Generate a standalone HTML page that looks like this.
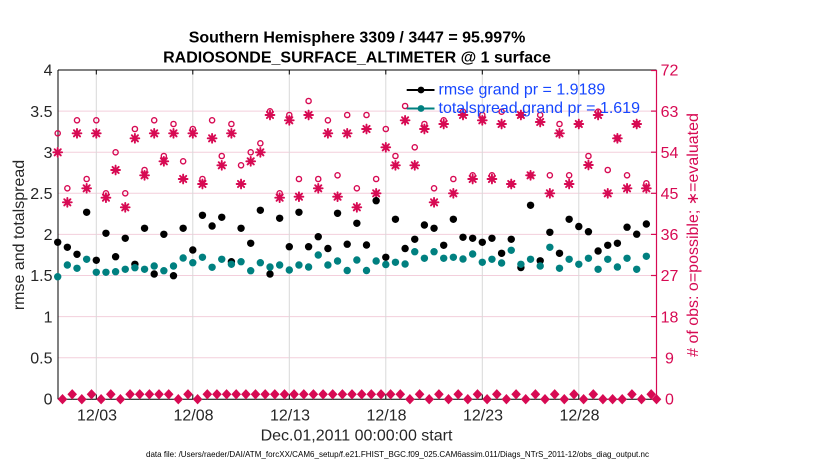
<!DOCTYPE html>
<html>
<head>
<meta charset="utf-8">
<style>
html,body{margin:0;padding:0;background:#fff;}
svg{display:block;}
text{font-family:"Liberation Sans",Arial,sans-serif;}
</style>
</head>
<body>
<svg width="830" height="470" viewBox="0 0 830 470" xmlns="http://www.w3.org/2000/svg">
<defs>
<circle id="k" r="3.7" fill="#000"/>
<circle id="t" r="3.7" fill="#008080"/>
<circle id="o" r="2.6" fill="none" stroke="#D70A53" stroke-width="1.4"/>
<g id="s"><path d="M-4.4,0H4.4M0,-4.4V4.4M-3.1,-3.1L3.1,3.1M-3.1,3.1L3.1,-3.1" stroke="#D70A53" stroke-width="1.9" stroke-linecap="round"/><circle r="2.5" fill="#D70A53"/></g>
<g id="d"><path d="M0,-5.2L4.8,0L0,5.2L-4.8,0Z" fill="#D70A53"/></g>
</defs>

<!-- title -->
<text x="357" y="42.5" font-size="16" font-weight="bold" text-anchor="middle" fill="#000">Southern Hemisphere 3309 / 3447 = 95.997%</text>
<text x="357" y="62.5" font-size="16" font-weight="bold" text-anchor="middle" fill="#000">RADIOSONDE_SURFACE_ALTIMETER @ 1 surface</text>

<!-- grid horizontal (pink) -->
<g stroke="#f3cfdc" stroke-width="1">
<line x1="58" y1="357.7" x2="656" y2="357.7"/>
<line x1="58" y1="316.6" x2="656" y2="316.6"/>
<line x1="58" y1="275.5" x2="656" y2="275.5"/>
<line x1="58" y1="234.4" x2="656" y2="234.4"/>
<line x1="58" y1="193.3" x2="656" y2="193.3"/>
<line x1="58" y1="152.2" x2="656" y2="152.2"/>
<line x1="58" y1="111.1" x2="656" y2="111.1"/>
</g>
<!-- grid vertical (gray) -->
<g stroke="#d8d8d8" stroke-width="1">
<line x1="96.3" y1="70" x2="96.3" y2="399"/>
<line x1="192.8" y1="70" x2="192.8" y2="399"/>
<line x1="289.3" y1="70" x2="289.3" y2="399"/>
<line x1="385.8" y1="70" x2="385.8" y2="399"/>
<line x1="482.3" y1="70" x2="482.3" y2="399"/>
<line x1="578.8" y1="70" x2="578.8" y2="399"/>
</g>

<!-- axes -->
<g stroke="#000" stroke-width="1">
<line x1="58" y1="70" x2="58" y2="399.3"/>
<line x1="58" y1="70" x2="656.5" y2="70"/>
<line x1="58" y1="399.3" x2="656.5" y2="399.3"/>
<line x1="96.3" y1="70" x2="96.3" y2="74.5"/>
<line x1="192.8" y1="70" x2="192.8" y2="74.5"/>
<line x1="289.3" y1="70" x2="289.3" y2="74.5"/>
<line x1="385.8" y1="70" x2="385.8" y2="74.5"/>
<line x1="482.3" y1="70" x2="482.3" y2="74.5"/>
<line x1="578.8" y1="70" x2="578.8" y2="74.5"/>
<line x1="96.3" y1="399" x2="96.3" y2="394.5"/>
<line x1="192.8" y1="399" x2="192.8" y2="394.5"/>
<line x1="289.3" y1="399" x2="289.3" y2="394.5"/>
<line x1="385.8" y1="399" x2="385.8" y2="394.5"/>
<line x1="482.3" y1="399" x2="482.3" y2="394.5"/>
<line x1="578.8" y1="399" x2="578.8" y2="394.5"/>
</g>
<g stroke="#D70A53" stroke-width="1.2">
<line x1="656.5" y1="70" x2="656.5" y2="399.3"/>
<line x1="651" y1="70.5" x2="656.5" y2="70.5"/>
<line x1="651" y1="111.1" x2="656.5" y2="111.1"/>
<line x1="651" y1="152.2" x2="656.5" y2="152.2"/>
<line x1="651" y1="193.3" x2="656.5" y2="193.3"/>
<line x1="651" y1="234.4" x2="656.5" y2="234.4"/>
<line x1="651" y1="275.5" x2="656.5" y2="275.5"/>
<line x1="651" y1="316.6" x2="656.5" y2="316.6"/>
<line x1="651" y1="357.7" x2="656.5" y2="357.7"/>
</g>

<!-- left tick labels -->
<g font-size="16" fill="#262626" text-anchor="end">
<text x="52.5" y="404.5">0</text>
<text x="52.5" y="363.4">0.5</text>
<text x="52.5" y="322.3">1</text>
<text x="52.5" y="281.2">1.5</text>
<text x="52.5" y="240.1">2</text>
<text x="52.5" y="199">2.5</text>
<text x="52.5" y="157.9">3</text>
<text x="52.5" y="116.8">3.5</text>
<text x="52.5" y="75.7">4</text>
</g>
<!-- right tick labels -->
<g font-size="16" fill="#D70A53" text-anchor="middle">
<text x="669.5" y="404.5">0</text>
<text x="669.5" y="363.4">9</text>
<text x="669.5" y="322.3">18</text>
<text x="669.5" y="281.2">27</text>
<text x="669.5" y="240.1">36</text>
<text x="669.5" y="199">45</text>
<text x="669.5" y="157.9">54</text>
<text x="669.5" y="116.8">63</text>
<text x="669.5" y="75.7">72</text>
</g>
<!-- x tick labels -->
<g font-size="16" fill="#262626" text-anchor="middle">
<text x="97" y="420.5">12/03</text>
<text x="193.5" y="420.5">12/08</text>
<text x="290" y="420.5">12/13</text>
<text x="386.5" y="420.5">12/18</text>
<text x="483" y="420.5">12/23</text>
<text x="579.5" y="420.5">12/28</text>
</g>
<text x="356.5" y="440.5" font-size="16" fill="#262626" text-anchor="middle">Dec.01,2011 00:00:00 start</text>
<text x="146" y="457" font-size="8.5" fill="#000" textLength="503" lengthAdjust="spacingAndGlyphs">data file: /Users/raeder/DAI/ATM_forcXX/CAM6_setup/f.e21.FHIST_BGC.f09_025.CAM6assim.011/Diags_NTrS_2011-12/obs_diag_output.nc</text>

<!-- axis labels -->
<text transform="translate(24,235) rotate(-90)" font-size="16" fill="#262626" text-anchor="middle">rmse and totalspread</text>
<text transform="translate(698,235) rotate(-90)" font-size="16" fill="#D70A53" text-anchor="middle"># of obs: o=possible; ∗=evaluated</text>

<!-- bottom diamonds -->
<g>
<use href="#d" x="62.5" y="399.2"/><use href="#d" x="72.2" y="394.3"/><use href="#d" x="81.8" y="399.2"/><use href="#d" x="91.5" y="394.3"/><use href="#d" x="101.1" y="399.2"/><use href="#d" x="110.8" y="394.3"/><use href="#d" x="120.4" y="399.2"/><use href="#d" x="130.1" y="394.3"/><use href="#d" x="139.7" y="394.3"/><use href="#d" x="149.4" y="394.3"/><use href="#d" x="159.0" y="394.3"/><use href="#d" x="168.7" y="394.3"/><use href="#d" x="178.3" y="399.2"/><use href="#d" x="188.0" y="394.3"/><use href="#d" x="197.6" y="399.2"/><use href="#d" x="207.3" y="394.3"/><use href="#d" x="216.9" y="394.3"/><use href="#d" x="226.6" y="394.3"/><use href="#d" x="236.2" y="394.3"/><use href="#d" x="245.9" y="394.3"/><use href="#d" x="255.5" y="394.3"/><use href="#d" x="265.2" y="394.3"/><use href="#d" x="274.8" y="394.3"/><use href="#d" x="284.5" y="394.3"/><use href="#d" x="294.1" y="394.3"/><use href="#d" x="303.8" y="394.3"/><use href="#d" x="313.4" y="394.3"/><use href="#d" x="323.1" y="394.3"/><use href="#d" x="332.7" y="394.3"/><use href="#d" x="342.4" y="394.3"/><use href="#d" x="352.0" y="394.3"/><use href="#d" x="361.7" y="394.3"/><use href="#d" x="371.3" y="394.3"/><use href="#d" x="381.0" y="394.3"/><use href="#d" x="390.6" y="394.3"/><use href="#d" x="400.3" y="394.3"/><use href="#d" x="409.9" y="399.2"/><use href="#d" x="419.6" y="394.3"/><use href="#d" x="429.2" y="399.2"/><use href="#d" x="438.9" y="394.3"/><use href="#d" x="448.5" y="399.2"/><use href="#d" x="458.2" y="394.3"/><use href="#d" x="467.8" y="399.2"/><use href="#d" x="477.5" y="394.3"/><use href="#d" x="487.1" y="399.2"/><use href="#d" x="496.8" y="394.3"/><use href="#d" x="506.4" y="399.2"/><use href="#d" x="516.1" y="394.3"/><use href="#d" x="525.7" y="399.2"/><use href="#d" x="535.4" y="394.3"/><use href="#d" x="545.0" y="399.2"/><use href="#d" x="554.7" y="394.3"/><use href="#d" x="564.3" y="399.2"/><use href="#d" x="574.0" y="394.3"/><use href="#d" x="583.6" y="399.2"/><use href="#d" x="593.3" y="394.3"/><use href="#d" x="602.9" y="399.2"/><use href="#d" x="612.6" y="399.2"/><use href="#d" x="622.2" y="399.2"/><use href="#d" x="631.9" y="394.3"/><use href="#d" x="641.5" y="399.2"/><use href="#d" x="651.2" y="394.3"/><use href="#d" x="656.5" y="399.2"/>
</g>

<!-- possible (open circles) -->
<g>
<use href="#o" x="57.7" y="133.3"/><use href="#o" x="67.35" y="188.3"/><use href="#o" x="77.0" y="120.3"/><use href="#o" x="86.65" y="179"/><use href="#o" x="96.3" y="120.3"/><use href="#o" x="105.95" y="193.3"/><use href="#o" x="115.6" y="152.3"/><use href="#o" x="125.25" y="193.3"/><use href="#o" x="134.9" y="129"/><use href="#o" x="144.55" y="170"/><use href="#o" x="154.2" y="120.3"/><use href="#o" x="163.85" y="156"/><use href="#o" x="173.5" y="124"/><use href="#o" x="183.15" y="161.3"/><use href="#o" x="192.8" y="129"/><use href="#o" x="202.45" y="179"/><use href="#o" x="212.1" y="120.3"/><use href="#o" x="221.75" y="156"/><use href="#o" x="231.4" y="124"/><use href="#o" x="241.05" y="165.3"/><use href="#o" x="250.7" y="152.3"/><use href="#o" x="260.35" y="143.3"/><use href="#o" x="270.0" y="111.3"/><use href="#o" x="279.65" y="193.3"/><use href="#o" x="289.3" y="115"/><use href="#o" x="298.95" y="179"/><use href="#o" x="308.6" y="101"/><use href="#o" x="318.25" y="179"/><use href="#o" x="327.9" y="120.3"/><use href="#o" x="337.55" y="175.3"/><use href="#o" x="347.2" y="115"/><use href="#o" x="356.85" y="188.3"/><use href="#o" x="366.5" y="115"/><use href="#o" x="376.15" y="179"/><use href="#o" x="385.8" y="129"/><use href="#o" x="395.45" y="156"/><use href="#o" x="405.1" y="106"/><use href="#o" x="414.75" y="147.3"/><use href="#o" x="424.4" y="124"/><use href="#o" x="434.05" y="188.3"/><use href="#o" x="443.7" y="120.3"/><use href="#o" x="453.35" y="179"/><use href="#o" x="463.0" y="111.7"/><use href="#o" x="472.65" y="175.3"/><use href="#o" x="482.3" y="115"/><use href="#o" x="491.95" y="175.3"/><use href="#o" x="501.6" y="111.7"/><use href="#o" x="511.25" y="184"/><use href="#o" x="520.9" y="115"/><use href="#o" x="530.55" y="175.3"/><use href="#o" x="540.2" y="115"/><use href="#o" x="549.85" y="175.3"/><use href="#o" x="559.5" y="124"/><use href="#o" x="569.15" y="175.3"/><use href="#o" x="578.8" y="124"/><use href="#o" x="588.45" y="156"/><use href="#o" x="598.1" y="111.7"/><use href="#o" x="607.75" y="170"/><use href="#o" x="617.4" y="138.3"/><use href="#o" x="627.05" y="175.3"/><use href="#o" x="636.7" y="124"/><use href="#o" x="646.35" y="183.3"/>
</g>

<!-- evaluated (asterisks) -->
<g>
<use href="#s" x="57.7" y="152.3"/><use href="#s" x="67.35" y="202.3"/><use href="#s" x="77.0" y="133.3"/><use href="#s" x="86.65" y="188.3"/><use href="#s" x="96.3" y="133.3"/><use href="#s" x="105.95" y="197.7"/><use href="#s" x="115.6" y="170"/><use href="#s" x="125.25" y="207.3"/><use href="#s" x="134.9" y="138.3"/><use href="#s" x="144.55" y="175.3"/><use href="#s" x="154.2" y="133.3"/><use href="#s" x="163.85" y="161.3"/><use href="#s" x="173.5" y="133.3"/><use href="#s" x="183.15" y="179"/><use href="#s" x="192.8" y="133.3"/><use href="#s" x="202.45" y="184"/><use href="#s" x="212.1" y="138.3"/><use href="#s" x="221.75" y="165.3"/><use href="#s" x="231.4" y="133.3"/><use href="#s" x="241.05" y="184"/><use href="#s" x="250.7" y="161.3"/><use href="#s" x="260.35" y="152.3"/><use href="#s" x="270.0" y="115"/><use href="#s" x="279.65" y="197.7"/><use href="#s" x="289.3" y="120.3"/><use href="#s" x="298.95" y="196.7"/><use href="#s" x="308.6" y="115"/><use href="#s" x="318.25" y="188.3"/><use href="#s" x="327.9" y="133.3"/><use href="#s" x="337.55" y="196.7"/><use href="#s" x="347.2" y="133.3"/><use href="#s" x="356.85" y="207.3"/><use href="#s" x="366.5" y="129"/><use href="#s" x="376.15" y="193.3"/><use href="#s" x="385.8" y="147.3"/><use href="#s" x="395.45" y="165.3"/><use href="#s" x="405.1" y="120.3"/><use href="#s" x="414.75" y="165.3"/><use href="#s" x="424.4" y="129"/><use href="#s" x="434.05" y="202.3"/><use href="#s" x="443.7" y="124"/><use href="#s" x="453.35" y="193.3"/><use href="#s" x="463.0" y="115"/><use href="#s" x="472.65" y="179"/><use href="#s" x="482.3" y="120.3"/><use href="#s" x="491.95" y="179"/><use href="#s" x="501.6" y="124"/><use href="#s" x="511.25" y="184"/><use href="#s" x="520.9" y="115"/><use href="#s" x="530.55" y="175.3"/><use href="#s" x="540.2" y="122"/><use href="#s" x="549.85" y="193.3"/><use href="#s" x="559.5" y="133.3"/><use href="#s" x="569.15" y="184"/><use href="#s" x="578.8" y="124"/><use href="#s" x="588.45" y="165"/><use href="#s" x="598.1" y="115"/><use href="#s" x="607.75" y="193.3"/><use href="#s" x="617.4" y="138.3"/><use href="#s" x="627.05" y="188.3"/><use href="#s" x="636.7" y="124"/><use href="#s" x="646.35" y="188.3"/>
</g>

<!-- rmse (black) -->
<g>
<use href="#k" x="57.7" y="242.3"/><use href="#k" x="67.35" y="247.3"/><use href="#k" x="77.0" y="254.3"/><use href="#k" x="86.65" y="212.3"/><use href="#k" x="96.3" y="260.3"/><use href="#k" x="105.95" y="233.3"/><use href="#k" x="115.6" y="256.7"/><use href="#k" x="125.25" y="238.3"/><use href="#k" x="134.9" y="264.3"/><use href="#k" x="144.55" y="228.3"/><use href="#k" x="154.2" y="274"/><use href="#k" x="163.85" y="234.3"/><use href="#k" x="173.5" y="275.7"/><use href="#k" x="183.15" y="228.3"/><use href="#k" x="192.8" y="250"/><use href="#k" x="202.45" y="215.3"/><use href="#k" x="212.1" y="226"/><use href="#k" x="221.75" y="217.3"/><use href="#k" x="231.4" y="261.7"/><use href="#k" x="241.05" y="228.3"/><use href="#k" x="250.7" y="243.3"/><use href="#k" x="260.35" y="210.3"/><use href="#k" x="270.0" y="274"/><use href="#k" x="279.65" y="218.3"/><use href="#k" x="289.3" y="246.7"/><use href="#k" x="298.95" y="212.3"/><use href="#k" x="308.6" y="246.7"/><use href="#k" x="318.25" y="236.7"/><use href="#k" x="327.9" y="248.5"/><use href="#k" x="337.55" y="213.3"/><use href="#k" x="347.2" y="244.2"/><use href="#k" x="356.85" y="223.3"/><use href="#k" x="366.5" y="245"/><use href="#k" x="376.15" y="200.7"/><use href="#k" x="385.8" y="257.3"/><use href="#k" x="395.45" y="219.3"/><use href="#k" x="405.1" y="248.5"/><use href="#k" x="414.75" y="239.3"/><use href="#k" x="424.4" y="225"/><use href="#k" x="434.05" y="228.3"/><use href="#k" x="443.7" y="245.3"/><use href="#k" x="453.35" y="219.3"/><use href="#k" x="463.0" y="237.3"/><use href="#k" x="472.65" y="238.3"/><use href="#k" x="482.3" y="242.3"/><use href="#k" x="491.95" y="238.3"/><use href="#k" x="501.6" y="253.3"/><use href="#k" x="511.25" y="239.3"/><use href="#k" x="520.9" y="267.5"/><use href="#k" x="530.55" y="205.3"/><use href="#k" x="540.2" y="260.8"/><use href="#k" x="549.85" y="232.3"/><use href="#k" x="559.5" y="253.3"/><use href="#k" x="569.15" y="219.3"/><use href="#k" x="578.8" y="226.5"/><use href="#k" x="588.45" y="231.7"/><use href="#k" x="598.1" y="251"/><use href="#k" x="607.75" y="245.3"/><use href="#k" x="617.4" y="243.3"/><use href="#k" x="627.05" y="227.2"/><use href="#k" x="636.7" y="234.2"/><use href="#k" x="646.35" y="224"/>
</g>

<!-- totalspread (teal) -->
<g>
<use href="#t" x="57.7" y="276.7"/><use href="#t" x="67.35" y="265"/><use href="#t" x="77.0" y="268.3"/><use href="#t" x="86.65" y="259.3"/><use href="#t" x="96.3" y="272.3"/><use href="#t" x="105.95" y="272.3"/><use href="#t" x="115.6" y="271.7"/><use href="#t" x="125.25" y="269.3"/><use href="#t" x="134.9" y="267.7"/><use href="#t" x="144.55" y="269.3"/><use href="#t" x="154.2" y="266"/><use href="#t" x="163.85" y="270.7"/><use href="#t" x="173.5" y="266"/><use href="#t" x="183.15" y="258"/><use href="#t" x="192.8" y="262.7"/><use href="#t" x="202.45" y="257.3"/><use href="#t" x="212.1" y="267.3"/><use href="#t" x="221.75" y="259.3"/><use href="#t" x="231.4" y="264.3"/><use href="#t" x="241.05" y="261.7"/><use href="#t" x="250.7" y="270.7"/><use href="#t" x="260.35" y="262.7"/><use href="#t" x="270.0" y="267"/><use href="#t" x="279.65" y="265"/><use href="#t" x="289.3" y="270"/><use href="#t" x="298.95" y="265"/><use href="#t" x="308.6" y="267"/><use href="#t" x="318.25" y="255"/><use href="#t" x="327.9" y="265"/><use href="#t" x="337.55" y="261"/><use href="#t" x="347.2" y="270.5"/><use href="#t" x="356.85" y="260"/><use href="#t" x="366.5" y="270.5"/><use href="#t" x="376.15" y="261"/><use href="#t" x="385.8" y="264.5"/><use href="#t" x="395.45" y="262.3"/><use href="#t" x="405.1" y="264"/><use href="#t" x="414.75" y="251.7"/><use href="#t" x="424.4" y="258.3"/><use href="#t" x="434.05" y="251.7"/><use href="#t" x="443.7" y="258.3"/><use href="#t" x="453.35" y="257.3"/><use href="#t" x="463.0" y="259"/><use href="#t" x="472.65" y="254"/><use href="#t" x="482.3" y="262.3"/><use href="#t" x="491.95" y="259.3"/><use href="#t" x="501.6" y="263"/><use href="#t" x="511.25" y="250.3"/><use href="#t" x="520.9" y="264.3"/><use href="#t" x="530.55" y="259.3"/><use href="#t" x="540.2" y="266"/><use href="#t" x="549.85" y="247.3"/><use href="#t" x="559.5" y="268.3"/><use href="#t" x="569.15" y="259.3"/><use href="#t" x="578.8" y="264.3"/><use href="#t" x="588.45" y="258.3"/><use href="#t" x="598.1" y="269.3"/><use href="#t" x="607.75" y="259.3"/><use href="#t" x="617.4" y="267"/><use href="#t" x="627.05" y="258.3"/><use href="#t" x="636.7" y="269.3"/><use href="#t" x="646.35" y="256.3"/>
</g>

<!-- legend -->
<line x1="406.7" y1="90" x2="434.5" y2="90" stroke="#000" stroke-width="2"/>
<circle cx="421" cy="90" r="3.4" fill="#000"/>
<text x="438.5" y="94.5" font-size="16" fill="#1747ff">rmse grand pr = 1.9189</text>
<line x1="406.7" y1="108.5" x2="434.5" y2="108.5" stroke="#008080" stroke-width="2"/>
<circle cx="421" cy="108.5" r="3.4" fill="#008080"/>
<text x="438.5" y="113" font-size="16" fill="#1747ff">totalspread grand pr = 1.619</text>
</svg>
</body>
</html>
